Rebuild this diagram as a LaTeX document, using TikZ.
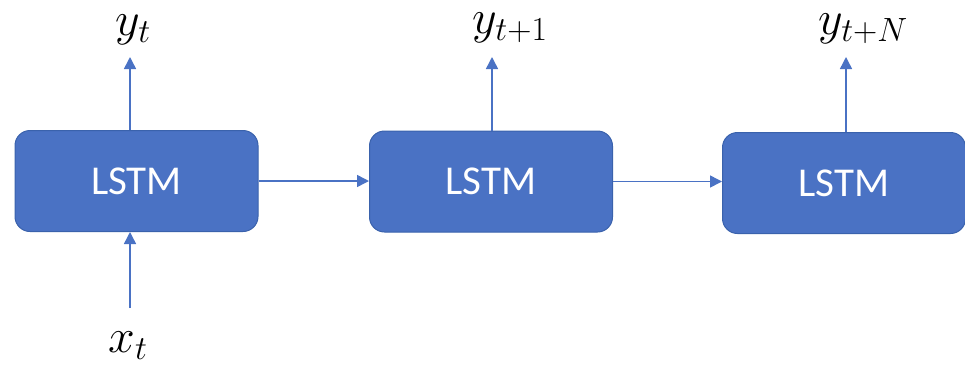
\RequirePackage{fix-cm}
\documentclass[tikz,border=0pt]{standalone}
\usepackage{fontspec}
\newfontfamily\boxfont{Carlito}
\usetikzlibrary{arrows.meta}
\definecolor{lblue}{HTML}{4A72C4}
\definecolor{lborder}{HTML}{3A62AC}
\begin{document}
\begin{tikzpicture}[x=1pt,y=-1pt,
  lstm/.style={draw=lborder,line width=1pt,fill=lblue,rounded corners=15pt,minimum width=243pt,minimum height=101pt,inner sep=0pt,text=white,font=\boxfont\fontsize{41}{48}\selectfont},
  conn/.style={draw=lblue,line width=1.5pt,-{Triangle[length=12pt,width=12pt]}},
  lab/.style={inner sep=0pt,font=\fontsize{48}{56}\selectfont}]
\useasboundingbox (0,0) rectangle (965,365);
\node[lstm] (b1) at (136.5,181) {LSTM};
\node[lstm] (b2) at (491,181.5) {LSTM};
\node[lstm] (b3) at (844,183) {LSTM};
\coordinate (t1) at (130,57);
\coordinate (t2) at (492,57);
\coordinate (t3) at (846,57);
\coordinate (s1) at (130,308);
\node[lab] (y1) at (133,30) {$y_t$};
\node[lab] (y2) at (510,28) {$y_{t+1}$};
\node[lab] (y3) at (863,29) {$y_{t+N}$};
\node[lab] (x1) at (128,346) {$x_t$};
\draw[conn] (b1.north -| t1) -- (t1);
\draw[conn] (b2.north -| t2) -- (t2);
\draw[conn] (b3.north -| t3) -- (t3);
\draw[conn] (s1) -- (b1.south -| s1);
\draw[conn] (b1.east) -- (b2.west |- b1.east);
\draw[conn] (b2.east) -- (b3.west |- b2.east);
\end{tikzpicture}
\end{document}
